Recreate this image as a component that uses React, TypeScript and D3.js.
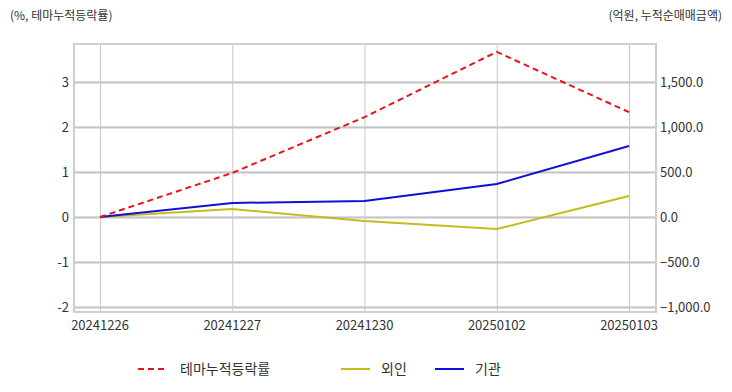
import { useRef, useEffect } from "react";
import * as d3 from "d3";

const dates = ["20241226", "20241227", "20241230", "20250102", "20250103"];
const themeRate = [0, 0.98, 2.22, 3.67, 2.33];
const foreignNet = [0, 89, -44, -133, 233];
const instNet = [0, 156, 178, 367, 789];
const leftTicks = [-2, -1, 0, 1, 2, 3];
const rightTicks = [-1000, -500, 0, 500, 1000, 1500];

const seriesNames = ["테마누적등락률", "외인", "기관"];
const seriesColors = ["#e8141b", "#c4bc1c", "#1010d8"];

const App = () => {
  const svgRef = useRef<SVGSVGElement>(null);

  useEffect(() => {
    const svg = d3.select(svgRef.current);
    svg.selectAll("*").remove();

    const left = 74, right = 656, top = 44, bottom = 312;
    const font = "'Noto Sans CJK KR', 'Noto Sans', sans-serif";

    const x = d3.scalePoint<string>().domain(dates).range([100, 629]);
    const yL = d3.scaleLinear().domain([-2.11, 3.845]).range([bottom, top]);
    const yR = d3.scaleLinear().domain([-1055.5, 1922.5]).range([bottom, top]);

    // horizontal gridlines through d3 axes (left and right)
    svg.append("g")
      .attr("transform", `translate(${left},0)`)
      .call(d3.axisRight(yL).tickValues(leftTicks).tickSize(right - left).tickFormat(() => ""))
      .call(g => g.select(".domain").remove())
      .call(g => g.selectAll(".tick line").attr("stroke", "#c4c4c4").attr("stroke-width", 2));
    svg.append("g")
      .attr("transform", `translate(${left},-1)`)
      .call(d3.axisRight(yR).tickValues(rightTicks).tickSize(right - left).tickFormat(() => ""))
      .call(g => g.select(".domain").remove())
      .call(g => g.selectAll(".tick line").attr("stroke", "#dcdcdc").attr("stroke-width", 1));

    // vertical gridlines
    svg.append("g")
      .attr("transform", `translate(0,${top})`)
      .call(d3.axisBottom(x).tickSize(bottom - top).tickFormat(() => ""))
      .call(g => g.select(".domain").remove())
      .call(g => g.selectAll(".tick line").attr("stroke", "#c8c8c8").attr("stroke-width", 1));

    // frame
    svg.append("rect")
      .attr("x", left).attr("y", top)
      .attr("width", right - left).attr("height", bottom - top)
      .attr("fill", "none").attr("stroke", "#cfcfcf").attr("stroke-width", 2);

    // lines
    const lineL = d3.line<number>().x((_, i) => x(dates[i])!).y(d => yL(d));
    const lineR = d3.line<number>().x((_, i) => x(dates[i])!).y(d => yR(d));

    svg.append("path").datum(foreignNet)
      .attr("fill", "none").attr("stroke", seriesColors[1]).attr("stroke-width", 2)
      .attr("d", lineR);
    svg.append("path").datum(instNet)
      .attr("fill", "none").attr("stroke", seriesColors[2]).attr("stroke-width", 2)
      .attr("d", lineR);
    svg.append("path").datum(themeRate)
      .attr("fill", "none").attr("stroke", seriesColors[0]).attr("stroke-width", 2)
      .attr("stroke-dasharray", "6,4")
      .attr("d", lineL);

    // left tick labels
    svg.append("g").selectAll("text").data(leftTicks).join("text")
      .attr("x", 69).attr("y", d => yL(d)).attr("dy", "0.35em")
      .attr("text-anchor", "end")
      .attr("font-family", font).attr("font-size", 13).attr("fill", "#333")
      .text(d => d);

    // right tick labels
    const fmt = d3.format(",.1f");
    svg.append("g").selectAll("text").data(rightTicks).join("text")
      .attr("x", 660).attr("y", d => yR(d)).attr("dy", "0.35em")
      .attr("text-anchor", "start")
      .attr("font-family", font).attr("font-size", 13).attr("fill", "#333")
      .text(d => fmt(d));

    // x labels
    svg.append("g").selectAll("text").data(dates).join("text")
      .attr("x", d => x(d)!).attr("y", 330)
      .attr("text-anchor", "middle")
      .attr("font-family", font).attr("font-size", 13).attr("fill", "#333")
      .text(d => d);

    // axis titles
    svg.append("text").attr("x", 10).attr("y", 20)
      .attr("font-family", font).attr("font-size", 12).attr("fill", "#333")
      .text("(%, 테마누적등락률)");
    svg.append("text").attr("x", 722).attr("y", 20).attr("text-anchor", "end")
      .attr("font-family", font).attr("font-size", 12).attr("fill", "#333")
      .text("(억원, 누적순매매금액)");

    // legend
    const legendX = [138, 341, 435];
    const lg = svg.append("g").selectAll("g").data(seriesNames).join("g")
      .attr("transform", (_, i) => `translate(${legendX[i]},369)`);
    lg.append("line")
      .attr("x1", 0).attr("x2", 29).attr("y1", 0).attr("y2", 0)
      .attr("stroke", (_, i) => seriesColors[i]).attr("stroke-width", 2)
      .attr("stroke-dasharray", (_, i) => (i === 0 ? "6,4" : null));
    lg.append("text")
      .attr("x", (_, i) => (i === 0 ? 42 : 40)).attr("y", 0).attr("dy", "0.35em")
      .attr("font-family", font).attr("font-size", 14).attr("fill", "#333")
      .text(d => d);
  }, []);

  return (
    <div style={{ position: "absolute", left: 0, top: 0 }}>
      <svg ref={svgRef} width={732} height={392}></svg>
    </div>
  );
};

export default App;
